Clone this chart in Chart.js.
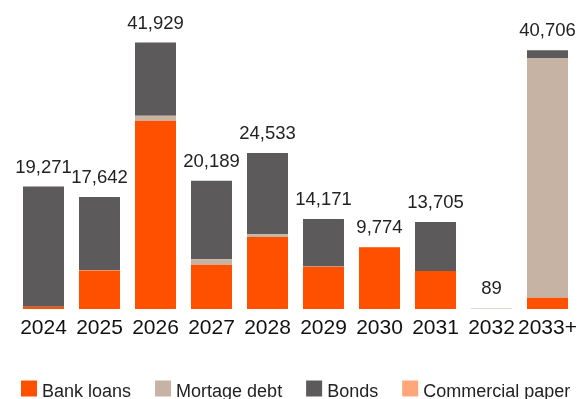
<!DOCTYPE html>
<html>
<head>
<meta charset="utf-8">
<script src="https://cdn.jsdelivr.net/npm/chart.js@4/dist/chart.umd.min.js"></script>
<style>
  html, body { margin: 0; padding: 0; background: #fff; overflow: hidden; }
  #wrap { position: relative; width: 580px; height: 399px; }
</style>
</head>
<body>
<div id="wrap"><canvas id="maturities"></canvas></div>
<script>
// Debt maturity profile by year (stacked by funding source)
const years = ['2024', '2025', '2026', '2027', '2028', '2029', '2030', '2031', '2032', '2033+'];
const bankLoans       = [  350,  6070, 29630,  6950, 11340,  6630,  9714,  6000,  0,  1770];
const mortgageDebt    = [    0,    60,   780,   890,   420,    60,    60,     0, 89, 37740];
const bonds           = [18921, 11512, 11519, 12349, 12773,  7481,     0,  7705,  0,  1196];
const commercialPaper = [    0,     0,     0,     0,     0,     0,     0,     0,  0,     0];

const FONT = '"Liberation Sans", Arial, Helvetica, sans-serif';

// Totals printed above each stacked column
const totalLabels = {
  id: 'totalLabels',
  afterDatasetsDraw(chart) {
    const { ctx, scales: { x, y } } = chart;
    ctx.save();
    ctx.font = '18.5px ' + FONT;
    ctx.fillStyle = '#222';
    ctx.textAlign = 'center';
    ctx.textBaseline = 'alphabetic';
    chart.data.labels.forEach((lab, i) => {
      const total = chart.data.datasets.reduce((s, ds) => s + (ds.data[i] || 0), 0);
      const px = x.getPixelForValue(i);
      const py = y.getPixelForValue(total);
      ctx.fillText(total.toLocaleString('en-US'), px, py - 14);
    });
    ctx.restore();
  }
};

// Legend row along the bottom edge
const bottomLegend = {
  id: 'bottomLegend',
  afterDraw(chart) {
    const { ctx } = chart;
    const box = 16, gapText = 5, gapItem = 24;
    const baseline = 396.5;
    let cx = 21;
    ctx.save();
    ctx.font = '18px ' + FONT;
    ctx.textBaseline = 'alphabetic';
    ctx.textAlign = 'left';
    chart.data.datasets.forEach(ds => {
      ctx.fillStyle = ds.backgroundColor;
      ctx.fillRect(cx, baseline - box, box, box);
      cx += box + gapText;
      ctx.fillStyle = '#222';
      ctx.fillText(ds.label, cx, baseline);
      cx += ctx.measureText(ds.label).width + gapItem;
    });
    ctx.restore();
  }
};

const barStyle = { borderWidth: 0, barPercentage: 0.732, categoryPercentage: 1.0 };

new Chart(document.getElementById('maturities'), {
  type: 'bar',
  data: {
    labels: years,
    datasets: [
      { label: 'Bank loans',       data: bankLoans,       backgroundColor: '#FF5000', ...barStyle },
      { label: 'Mortage debt',     data: mortgageDebt,    backgroundColor: '#C6B3A4', ...barStyle },
      { label: 'Bonds',            data: bonds,           backgroundColor: '#5C5A5A', ...barStyle },
      { label: 'Commercial paper', data: commercialPaper, backgroundColor: '#FFA77A', ...barStyle }
    ]
  },
  options: {
    responsive: true,
    maintainAspectRatio: false,
    animation: false,
    layout: { padding: { left: 15.5, right: 4.5, top: 4, bottom: 50.8 } },
    plugins: {
      legend: { display: false },
      tooltip: { enabled: false }
    },
    scales: {
      x: {
        stacked: true,
        grid: { display: false, drawTicks: false },
        border: { display: false },
        ticks: {
          color: '#111',
          font: { family: FONT, size: 21 },
          padding: 7,
          maxRotation: 0,
          minRotation: 0,
          autoSkip: false
        },
        // let the end labels overhang the category slots instead of shrinking the plot
        afterFit(scale) {
          scale.paddingLeft = 0;
          scale.paddingRight = 0;
        }
      },
      y: {
        stacked: true,
        display: false,
        min: 0,
        max: 48000
      }
    }
  },
  plugins: [totalLabels, bottomLegend]
});
</script>
</body>
</html>
